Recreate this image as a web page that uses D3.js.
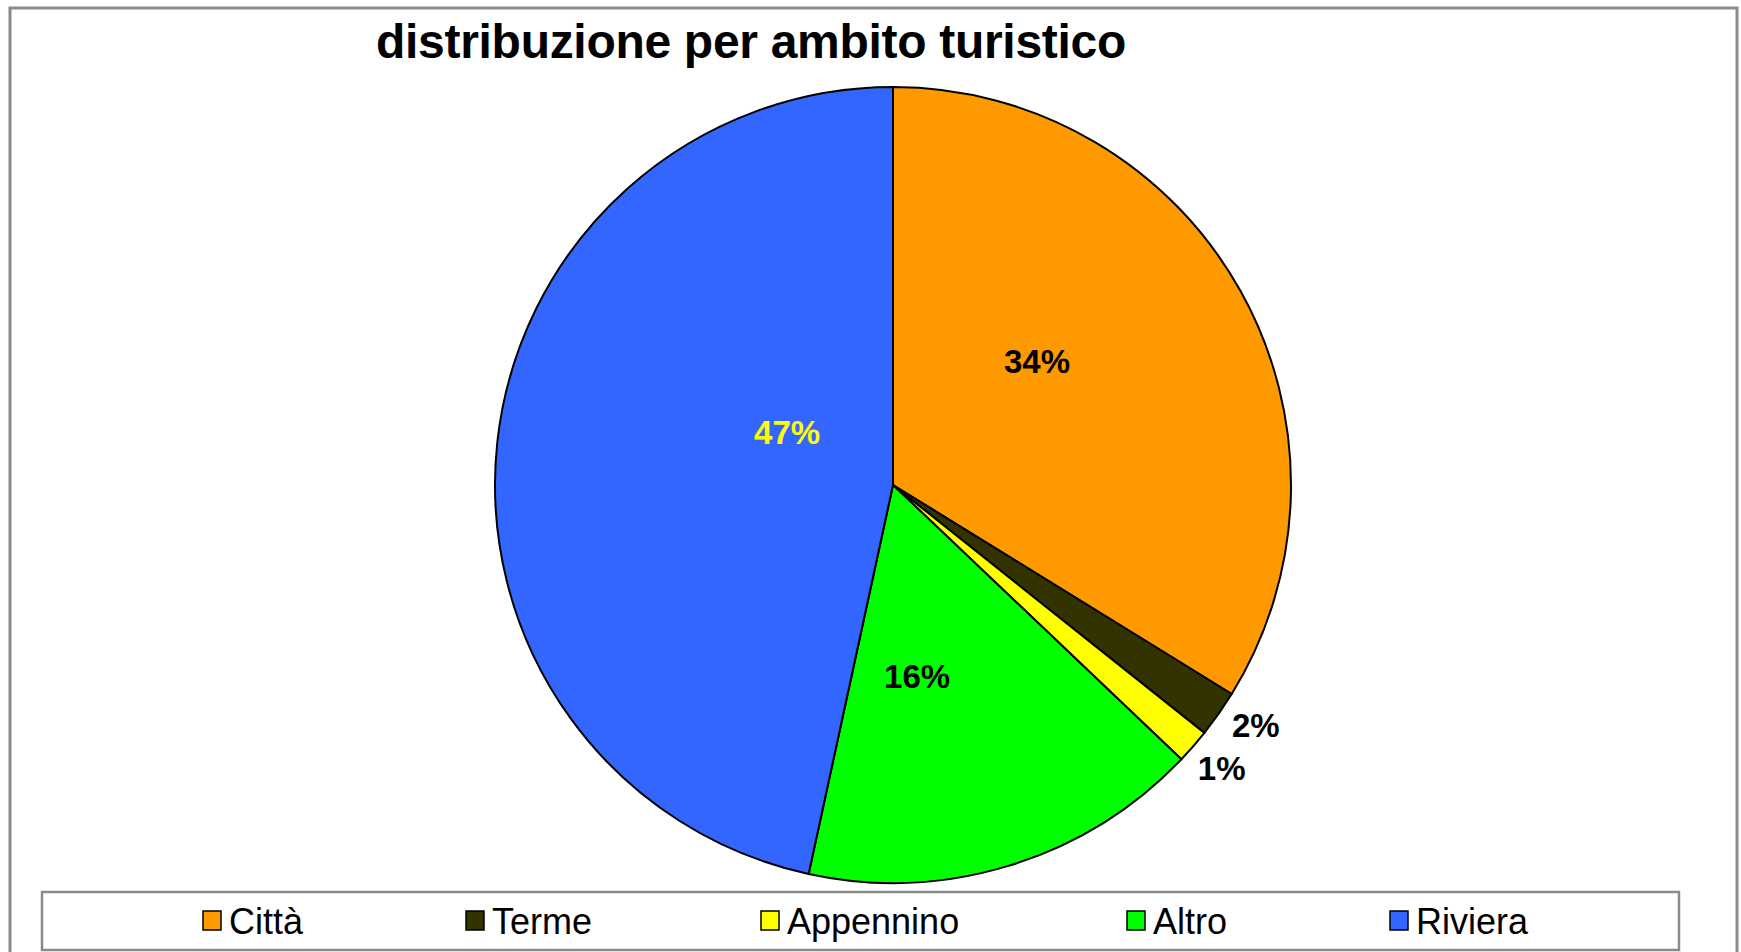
<!DOCTYPE html>
<html><head><meta charset="utf-8">
<script src="https://cdn.jsdelivr.net/npm/d3@7"></script>
<style>html,body{margin:0;padding:0;background:#fff;}svg{display:block;}</style>
</head><body>
<svg id="chart" width="1741" height="952"></svg>
<script>
const categories = ["Città", "Terme", "Appennino", "Altro", "Riviera"];
const values = [33.8, 1.9, 1.4, 16.3, 46.6];
const colors = ["#FF9900", "#333300", "#FFFF00", "#00FF00", "#3366FF"];
const labelColors = ["#000", "#000", "#000", "#000", "#FFFF00"];
const title = "distribuzione per ambito turistico";

// label placement: [radius fraction, angle shift (degrees) from slice mid-angle]
const labelPlacement = [[0.477, -11.5], [1.093, -1.6], [1.09, -0.3], [0.484, 9.9], [0.298, 20.6]];

const svg = d3.select("#chart");
const cx = 893, cy = 485, R = 398;

// outer frame
svg.append("rect").attr("x", 10).attr("y", 8).attr("width", 1727).attr("height", 980)
  .attr("fill", "#fff").attr("stroke", "#8a8a8a").attr("stroke-width", 3);

// title
svg.append("text").attr("x", 751).attr("y", 58).attr("text-anchor", "middle")
  .attr("font-family", "Liberation Sans, Arial, sans-serif").attr("font-weight", "bold")
  .attr("font-size", 48).attr("letter-spacing", -0.3).attr("fill", "#000").text(title);

const data = categories.map((c, i) => ({ cat: c, value: values[i], i }));
const pie = d3.pie().value(d => d.value).sort(null);
const arcs = pie(data);
const arc = d3.arc().innerRadius(0).outerRadius(R);
const total = d3.sum(values);

const g = svg.append("g").attr("transform", `translate(${cx},${cy})`);
g.selectAll("path").data(arcs).join("path")
  .attr("d", arc).attr("fill", d => colors[d.data.i])
  .attr("stroke", "#000").attr("stroke-width", 2).attr("stroke-linejoin", "round");

g.selectAll("text.lbl").data(arcs).join("text").attr("class", "lbl")
  .attr("transform", d => {
    const [rf, shift] = labelPlacement[d.data.i];
    const a = (d.startAngle + d.endAngle) / 2 + shift * Math.PI / 180;
    return `translate(${Math.sin(a) * R * rf},${-Math.cos(a) * R * rf})`;
  })
  .attr("text-anchor", "middle").attr("dy", "0.36em")
  .attr("font-family", "Liberation Sans, Arial, sans-serif").attr("font-weight", "bold")
  .attr("font-size", 33).attr("fill", d => labelColors[d.data.i])
  .text(d => Math.round(d.data.value / total * 100) + "%");

// legend
const lx = 42, ly = 892, lw = 1637, lh = 58;
svg.append("rect").attr("x", lx).attr("y", ly).attr("width", lw).attr("height", lh)
  .attr("fill", "#fff").attr("stroke", "#8a8a8a").attr("stroke-width", 2.5);
const legendItemX = [203, 466, 761, 1127, 1390];
const lgs = svg.selectAll("g.leg").data(categories).join("g").attr("class", "leg")
  .attr("transform", (d, i) => `translate(${legendItemX[i]},${ly + lh / 2})`);
lgs.append("rect").attr("x", 0).attr("y", -10).attr("width", 18).attr("height", 19)
  .attr("fill", (d, i) => colors[i]).attr("stroke", "#000").attr("stroke-width", 1.5);
lgs.append("text").attr("x", 26).attr("y", 0).attr("dy", "0.36em")
  .attr("font-family", "Liberation Sans, Arial, sans-serif").attr("font-size", 36)
  .attr("fill", "#000").text(d => d);
</script>
</body></html>
